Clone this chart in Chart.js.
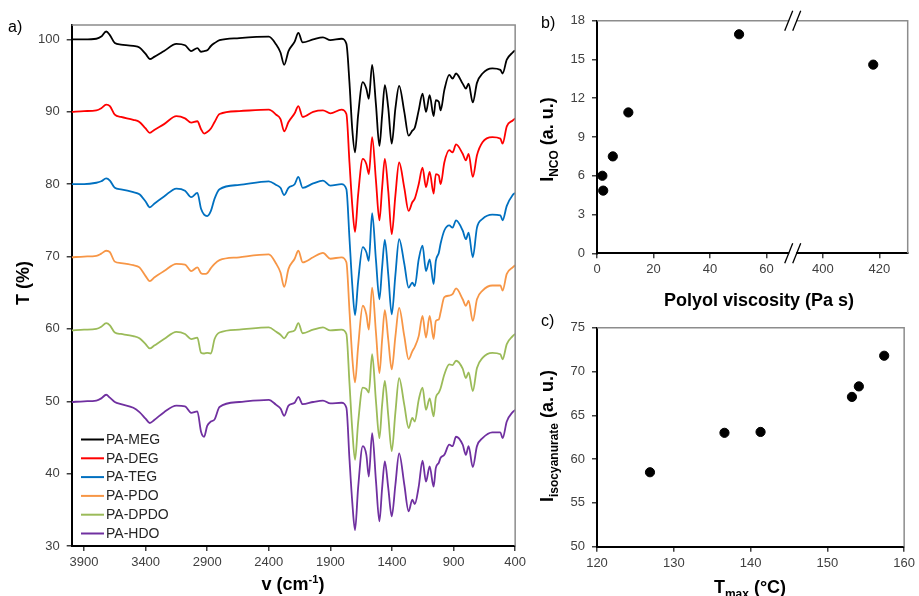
<!DOCTYPE html>
<html><head><meta charset="utf-8">
<script src="https://cdn.jsdelivr.net/npm/chart.js@4"></script>
<style>
html,body{margin:0;padding:0;background:#fff;width:919px;height:596px;overflow:hidden;}
.box{position:absolute;}
</style></head><body>
<div class="box" style="left:0;top:0;width:530px;height:596px"><canvas id="ca"></canvas></div>
<div class="box" style="left:530px;top:0;width:389px;height:320px"><canvas id="cb"></canvas></div>
<div class="box" style="left:530px;top:300px;width:389px;height:296px"><canvas id="cc"></canvas></div>
<script>
// ---------- Panel a: FTIR spectra ----------
const wavenumbers = [4000,3900,3800,3760,3720,3690,3650,3600,3500,3450,
 3400,3366,3330,3250,3150,3080,3030,2980,2950,2925,
 2900,2870,2840,2800,2640,2400,2340,2305,2275,2240,
 2190,2160,2125,2040,1960,1900,1810,1770,1745,1722,
 1700,1675,1637,1608,1588,1561,1530,1502,1480,1458,
 1430,1402,1372,1342,1300,1265,1235,1215,1183,1152,
 1124,1094,1062,1044,1020,1005,975,935,908,880,
 826,800,778,744,710,665,585,520,502,468,
 420,400];
const tMEG = [100,100,100.1,100.4,101.1,100.6,99.5,99.3,99.1,98.9,
 98,97.3,97.6,98.4,99.4,99.2,98.4,98.8,98.3,98.4,
 98.5,99.1,99.5,99.9,100.2,100.4,99.3,98.2,96.5,98.4,
 99.7,100.9,99.6,100,100.3,99.9,100.1,99.4,94,87.5,
 84.4,89.5,94.1,93.2,91.8,96.5,91,85.3,89.5,93.7,
 90.5,85.6,90.5,93.6,90,86.7,87.4,87.8,90.2,92.5,
 90,92.3,89.4,91.6,91.4,90.2,93,95.1,94.6,95.3,
 93.9,93.2,93.9,91.3,94,95.3,96,95.8,95.3,97.2,
 98.2,98.5];
const tDEG = [90,90.1,90.2,90.5,91,90.8,89.6,89.3,88.9,88.6,
 87.7,87.1,87.5,88.3,89.4,89.1,88.5,88.7,87.6,87.0,
 87.2,87.7,88.6,89.7,90.1,90.3,89.6,89.0,87.3,88.6,
 89.8,90.8,89.3,90,90.2,89.8,90.3,89.7,83,77,
 73.4,78.5,83.5,82.8,81.4,86.5,80.5,75,79.5,83.5,
 79,73.1,78.5,83,79.5,76.3,77.5,78,80,82.3,
 79.6,81.7,78.7,81.4,81.2,80,83,84.7,84.4,85.5,
 84.2,83.3,84.2,81,84,85.8,86.5,86.3,85.6,88,
 88.8,89.1];
const tTEG = [80,80,80.2,80.4,80.8,80.5,79.5,79.3,78.9,78.6,
 77.6,76.8,77.3,78.3,79.4,79.1,78.2,78.8,76.6,75.8,
 75.6,76.3,78,79.3,79.9,80.4,79.9,79.5,78.5,79.5,
 80,81,79.5,80.1,80.5,79.8,80,79.3,72.5,66,
 61.9,66.5,71.3,70.6,69.4,76,69.5,64.1,68.5,72.3,
 67.5,62,67.5,72.4,69,65.7,66.4,65.9,69.6,71.5,
 68,69.6,66.2,69.4,70.5,71.8,73.6,74.3,74,75,
 73.6,72.4,73.3,69.9,74,75.2,75.8,75.7,75,77,
 78.5,78.8];
const tPDO = [69.9,70,70.1,70.4,70.8,70.6,69.3,69.1,68.8,68.5,
 67.3,66.6,67.1,68,69,68.9,68,68.5,67.7,67.6,
 67.7,68.4,69,69.5,69.9,70.3,69,67.8,65.8,68.3,
 69.7,70.8,69.2,69.9,70.5,69.7,69.9,69.2,62.5,56,
 52.6,57.5,63.2,62,59.9,65.7,59.5,53.9,58.5,62.6,
 58.5,54.4,59,62.9,59,55.8,56.9,57.5,59,61.8,
 58.8,61.8,58.6,61.1,61.3,62.3,64.4,64.6,64.8,65.6,
 64.1,63.2,63.9,61.1,64.1,65.3,66,66,65.3,67.6,
 68.5,68.8];
const tDPDO = [59.8,59.9,60,60.3,60.8,60.5,59.5,59.3,59,58.7,
 57.9,57.3,57.7,58.6,59.6,59.3,58.6,58.8,56.7,56.6,
 56.7,56.6,58.6,59.5,59.9,60.2,59.6,59.2,58.7,59.5,
 59.8,60.8,59.4,59.9,60.2,59.8,59.9,59.3,52.5,46,
 41.9,47,51.9,51.7,51.2,56.5,50,44.9,49.5,52.8,
 48,43.1,48.5,53.2,49.5,46.3,47.7,47.2,50.2,51.9,
 48.8,50.4,47.9,50.5,51.2,51.8,53.7,55.1,55,55.6,
 54.5,53.2,54,51.4,54.6,56,56.7,56.5,55.8,57.9,
 59,59.3];
const tHDO = [49.9,50,50.1,50.4,50.9,50.5,49.9,49.6,49.1,48.5,
 47.6,47,47.4,48.5,49.4,49.3,48.4,48.6,45.8,45.1,
 46.6,47.2,47.5,49.2,49.9,50.2,49.5,49,48,49.4,
 49.8,50.6,49.6,49.9,50.1,49.7,49.8,49.1,42,36,
 32.2,38,43.8,42.6,39.6,45.6,39,33.4,38,41.7,
 38,34.1,38.5,42.8,38.5,34.8,36.4,35.8,38.2,41.8,
 38.9,41,38.2,40.8,41.5,42.2,42.6,44,43.8,45.1,
 44,42.6,43.8,40.9,43.8,44.9,45.7,45.7,44.9,47.2,
 48.5,48.8];
const seriesNames = ['PA-MEG','PA-DEG','PA-TEG','PA-PDO','PA-DPDO','PA-HDO'];
const waveTicks = [3900,3400,2900,2400,1900,1400,900,400];
const transTicks = [30,40,50,60,70,80,90,100];

// ---------- Panel b ----------
const viscosity = [1.9,2.2,5.6,11.1,50.3,417.8];
const iNCO = [6.0,4.85,7.5,10.9,16.95,14.6];
const viscTicks = [0,20,40,60,400,420];
const incoTicks = [0,3,6,9,12,15,18];

// ---------- Panel c ----------
const tMax = [126.9,136.6,141.3,153.2,154.1,157.4];
const iIso = [58.5,63.0,63.1,67.1,68.3,71.8];
const tmaxTicks = [120,130,140,150,160];
const isoTicks = [50,55,60,65,70,75];

const FONT = "'Liberation Sans', Arial, sans-serif";
Chart.defaults.font.family = FONT;
Chart.defaults.color = '#404040';
Chart.defaults.animation = false;

function drawRich(ctx, parts, cx, cy, angle) {
  ctx.save();
  ctx.translate(cx, cy);
  ctx.rotate(angle || 0);
  ctx.textBaseline = 'alphabetic';
  ctx.textAlign = 'left';
  let total = 0;
  parts.forEach(p => { ctx.font = p.font; p.w = ctx.measureText(p.t).width; total += p.w; });
  let x = -total / 2;
  parts.forEach(p => { ctx.font = p.font; ctx.fillStyle = '#000'; ctx.fillText(p.t, x, p.dy || 0); x += p.w; });
  ctx.restore();
}
const B18 = 'bold 18px ' + FONT, B12 = 'bold 12px ' + FONT, B11 = 'bold 11px ' + FONT;

function frame(chart) {
  const {ctx, chartArea: a} = chart;
  ctx.save();
  ctx.strokeStyle = '#8c8c8c';
  ctx.lineWidth = 1.5;
  ctx.beginPath();
  ctx.moveTo(a.left, a.top); ctx.lineTo(a.right, a.top); ctx.lineTo(a.right, a.bottom);
  ctx.stroke();
  ctx.restore();
}
function axisOpts(min, max, ticksArr, extra, isY) {
  return Object.assign({
    type: 'linear', min, max,
    afterBuildTicks: s => { s.ticks = ticksArr.map(v => ({value: v})); },
    grid: {drawOnChartArea: false, drawTicks: true, tickLength: 5, color: '#404040', lineWidth: 1.5},
    border: {display: true, color: '#000', width: 2},
    ticks: {font: {size: 13}, color: '#404040', padding: isY ? 7 : 4, autoSkip: false, maxRotation: 0,
      callback: v => String(v)}
  }, extra || {});
}

// ---------- Chart a ----------
const specColors = ['#000000','#ff0000','#0070c0','#f79646','#9bbb59','#7030a0'];
const specData = [tMEG, tDEG, tTEG, tPDO, tDPDO, tHDO];
new Chart(document.getElementById('ca'), {
  type: 'line',
  data: {
    datasets: specData.map((arr, k) => ({
      label: seriesNames[k],
      data: wavenumbers.map((w, i) => ({x: w, y: arr[i]})),
      borderColor: specColors[k], borderWidth: 1.8, pointRadius: 0,
      cubicInterpolationMode: 'monotone', fill: false
    }))
  },
  options: {
    responsive: true, maintainAspectRatio: false, devicePixelRatio: 1,
    layout: {padding: {left: 31.7, right: 14, top: 25, bottom: 20}},
    plugins: {legend: {display: false}, tooltip: {enabled: false}},
    scales: {
      x: axisOpts(400, 4000, waveTicks, {reverse: true, afterFit: s => { s.height = 30; }}),
      y: axisOpts(30, 102, transTicks, {afterFit: s => { s.width = 40; }}, true)
    }
  },
  plugins: [{
    id: 'decoA',
    afterDraw(chart) {
      frame(chart);
      const ctx = chart.ctx;
      ctx.save();
      chart.data.datasets.forEach((ds, k) => {
        const y = 439.5 + k * 18.8;
        ctx.strokeStyle = ds.borderColor; ctx.lineWidth = 2;
        ctx.beginPath(); ctx.moveTo(81, y); ctx.lineTo(104, y); ctx.stroke();
        ctx.fillStyle = '#262626'; ctx.font = '14px ' + FONT;
        ctx.textBaseline = 'middle'; ctx.textAlign = 'left';
        ctx.fillText(ds.label, 106, y + 0.5);
      });
      ctx.font = '16px ' + FONT; ctx.fillStyle = '#000'; ctx.textBaseline = 'alphabetic';
      ctx.fillText('a)', 8, 32);
      ctx.restore();
      drawRich(ctx, [{t: 'T (%)', font: B18}], 29, 283, -Math.PI / 2);
      drawRich(ctx, [{t: 'v (cm', font: B18}, {t: '-1', font: B11, dy: -7}, {t: ')', font: B18}], 293, 590, 0);
    }
  }]
});

// ---------- Chart b (broken x axis) ----------
const BREAK_LO = 70, BREAK_HI = 390;
const mapVisc = v => v > BREAK_LO ? v - (BREAK_HI - BREAK_LO) : v;
new Chart(document.getElementById('cb'), {
  type: 'scatter',
  data: {datasets: [{
    data: viscosity.map((v, i) => ({x: mapVisc(v), y: iNCO[i]})),
    backgroundColor: '#000', borderColor: '#000', pointRadius: 4.6, pointHoverRadius: 4.6
  }]},
  options: {
    responsive: true, maintainAspectRatio: false, devicePixelRatio: 1,
    layout: {padding: {left: 37, right: 11.3, top: 20.7, bottom: 41.7}},
    plugins: {legend: {display: false}, tooltip: {enabled: false}},
    scales: {
      x: axisOpts(0, 110, viscTicks.map(mapVisc), {
        afterFit: s => { s.height = 25; },
        ticks: {font: {size: 13}, color: '#404040', padding: 3, autoSkip: false, maxRotation: 0,
          callback: v => String(v > BREAK_LO ? v + (BREAK_HI - BREAK_LO) : v)}
      }),
      y: axisOpts(0, 18, incoTicks, {afterFit: s => { s.width = 30; }}, true)
    }
  },
  plugins: [{
    id: 'decoB',
    afterDraw(chart) {
      frame(chart);
      const {ctx, chartArea: a, scales: {x}} = chart;
      const px = x.getPixelForValue(BREAK_LO) - 2;
      ctx.save();
      [a.top, a.bottom].forEach(y => {
        ctx.fillStyle = '#fff';
        ctx.fillRect(px - 3.5, y - 2, 7, 4);
        ctx.strokeStyle = '#000'; ctx.lineWidth = 1.3;
        [-4, 4].forEach(d => {
          ctx.beginPath();
          ctx.moveTo(px + d - 4, y + 10); ctx.lineTo(px + d + 4, y - 10); ctx.stroke();
        });
      });
      ctx.font = '16px ' + FONT; ctx.fillStyle = '#000'; ctx.textBaseline = 'alphabetic';
      ctx.fillText('b)', 11, 28);
      ctx.restore();
      drawRich(ctx, [{t: 'I', font: B18}, {t: 'NCO', font: B12, dy: 5}, {t: ' (a. u.)', font: B18}], 23, 139.5, -Math.PI / 2);
      drawRich(ctx, [{t: 'Polyol viscosity (Pa s)', font: B18}], 229, 306, 0);
    }
  }]
});

// ---------- Chart c ----------
new Chart(document.getElementById('cc'), {
  type: 'scatter',
  data: {datasets: [{
    data: tMax.map((t, i) => ({x: t, y: iIso[i]})),
    backgroundColor: '#000', borderColor: '#000', pointRadius: 4.6, pointHoverRadius: 4.6
  }]},
  options: {
    responsive: true, maintainAspectRatio: false, devicePixelRatio: 1,
    layout: {padding: {left: 37, right: 12, top: 27.7, bottom: 24.3}},
    plugins: {legend: {display: false}, tooltip: {enabled: false}},
    scales: {
      x: axisOpts(120, 160, tmaxTicks, {afterFit: s => { s.height = 25; }}),
      y: axisOpts(50, 75, isoTicks, {afterFit: s => { s.width = 30; }}, true)
    }
  },
  plugins: [{
    id: 'decoC',
    afterDraw(chart) {
      frame(chart);
      const ctx = chart.ctx;
      ctx.save();
      ctx.font = '16px ' + FONT; ctx.fillStyle = '#000'; ctx.textBaseline = 'alphabetic';
      ctx.fillText('c)', 11, 26);
      ctx.restore();
      drawRich(ctx, [{t: 'I', font: B18}, {t: 'isocyanurate', font: B12, dy: 5}, {t: ' (a. u.)', font: B18}], 23, 136, -Math.PI / 2);
      drawRich(ctx, [{t: 'T', font: B18}, {t: 'max', font: B12, dy: 5}, {t: ' (°C)', font: B18}], 220, 293, 0);
    }
  }]
});
</script>
</body></html>
